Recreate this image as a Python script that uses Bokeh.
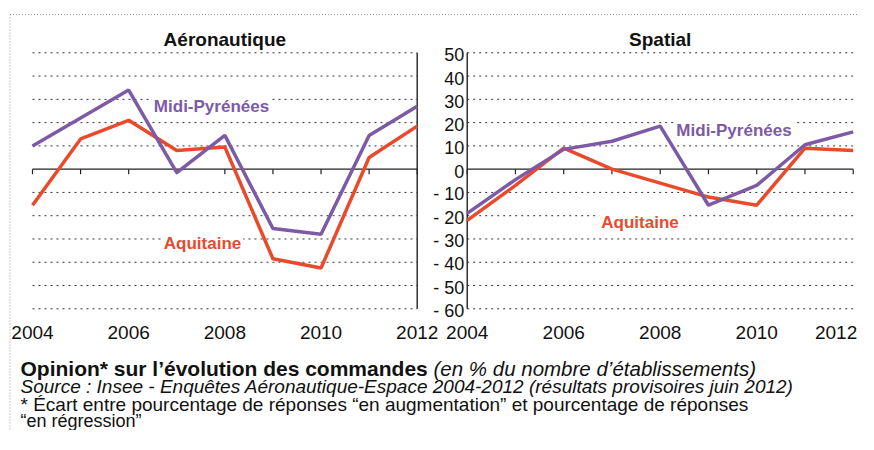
from bokeh.plotting import figure
from bokeh.models import Range1d, Label
from bokeh.core.properties import value
from bokeh.embed import file_html
from bokeh.resources import INLINE

# ---------------- data ----------------
years = [2004, 2005, 2006, 2007, 2008, 2009, 2010, 2011, 2012]
aero_midi = [10, 22, 34, -1.5, 14.5, -25.5, -28, 14.5, 27]
aero_aqui = [-15.5, 13, 21, 8, 9.5, -38.5, -42.5, 5, 18.5]
spat_midi = [-19, -4.5, 8.5, 12, 18.5, -15.5, -7, 10.5, 16]
spat_aqui = [-22, -7, 9, 0, -6, -12, -15.5, 9, 8]
year_ticks = [2004, 2006, 2008, 2010, 2012]
y_ticks = [50, 40, 30, 20, 10, 0, -10, -20, -30, -40, -50, -60]
y_tick_labels = ["50", "40", "30", "20", "10", "0", "- 10", "- 20", "- 30", "- 40", "- 50", "- 60"]
panel_titles = ["Aéronautique", "Spatial"]
series_names = ["Midi-Pyrénées", "Aquitaine"]
caption_bold = "Opinion* sur l’évolution des commandes"
caption_ital = "(en % du nombre d’établissements)"
source_text = "Source : Insee - Enquêtes Aéronautique-Espace 2004-2012 (résultats provisoires juin 2012)"
note1 = "* Écart entre pourcentage de réponses “en augmentation” et pourcentage de réponses"
note2 = "“en régression”"

# ---------------- layout (picture pixels) ----------------
W, H = 858, 430
FONT = "Liberation Sans"
PURPLE = "#7D5AA5"
RED = "#EA4A2C"
TXT = "#111111"

# y mapping: 50 -> 52.3 px, -60 -> 308.3 px
ppu = (308.3 - 52.3) / 110.0
y_top = 50 + 52.3 / ppu
y_bot = -60 - (H - 308.3) / ppu
# left panel x: 2004 -> 32, 2012 -> 416.7
ppl = (416.7 - 32.0) / 8
xl0 = 2004 - 32.0 / ppl
xl1 = 2012 + (W - 416.7) / ppl
# right panel x: 2004 -> 466.7, 2012 -> 852.7
ppr = (852.7 - 466.7) / 8
xr0 = 2004 - 466.7 / ppr
xr1 = 2012 + (W - 852.7) / ppr


def px_y(py):
    return 50 + (52.3 - py) / ppu


def px_xl(px):
    return 2004 + (px - 32.0) / ppl


def px_xr(px):
    return 2004 + (px - 466.7) / ppr


p = figure(width=W, height=H, output_backend="svg", toolbar_location=None,
           x_range=Range1d(xl0, xl1), y_range=Range1d(y_bot, y_top),
           min_border=0, outline_line_color=None,
           x_axis_location=None, y_axis_location=None)
p.extra_x_ranges = {"r": Range1d(xr0, xr1)}
p.xgrid.visible = False
p.ygrid.visible = False
p.background_fill_color = "white"
p.border_fill_color = "white"

# outer dotted border (top and left)
p.segment(x0=[px_xl(9.5)], x1=[xl1], y0=[px_y(14)], y1=[px_y(14)],
          line_color="#9a9a9a", line_dash="1 2", line_width=1)
p.segment(x0=[px_xl(9.5)], x1=[px_xl(9.5)], y0=[px_y(14)], y1=[y_bot],
          line_color="#9a9a9a", line_dash="1 2", line_width=1)

grid_vals = [v for v in y_ticks if v != 0]
for rng in ("default", "r"):
    # dotted grid lines
    p.segment(x0=[years[0]] * len(grid_vals), x1=[years[-1]] * len(grid_vals),
              y0=grid_vals, y1=grid_vals, line_color="#333333", line_width=1,
              line_dash="2 4", x_range_name=rng)
    # zero line and ticks
    p.segment(x0=[years[0]], x1=[years[-1]], y0=[0], y1=[0], line_color="#222222",
              line_width=1.4, x_range_name=rng)
    p.segment(x0=years, x1=years, y0=[0] * len(years), y1=[-5 / ppu] * len(years),
              line_color="#222222", line_width=1.2, x_range_name=rng)

# vertical axis lines
p.segment(x0=[years[-1]], x1=[years[-1]], y0=[y_ticks[-1]], y1=[y_ticks[0]],
          line_color="#222222", line_width=1.4)
p.segment(x0=[years[0]], x1=[years[0]], y0=[y_ticks[-1]], y1=[y_ticks[0]],
          line_color="#222222", line_width=1.4, x_range_name="r")

# series
p.line(years, aero_aqui, line_color=RED, line_width=3.5)
p.line(years, aero_midi, line_color=PURPLE, line_width=3.5)
p.line(years, spat_aqui, line_color=RED, line_width=3.5, x_range_name="r")
p.line(years, spat_midi, line_color=PURPLE, line_width=3.5, x_range_name="r")

# y tick labels (shared, between panels)
p.text(x=[years[0]] * len(y_ticks), y=y_ticks, text=y_tick_labels, x_range_name="r",
       x_offset=-3, y_offset=2, text_align="right", text_baseline="middle",
       text_font=value(FONT), text_font_size="18px", text_color=TXT)

# year labels
p.text(x=year_ticks, y=[y_ticks[-1]] * len(year_ticks),
       text=[str(v) for v in year_ticks],
       y_offset=23.5, text_align="center", text_baseline="middle",
       text_font=value(FONT), text_font_size="19px", text_color=TXT)
p.text(x=year_ticks[:-1], y=[y_ticks[-1]] * (len(year_ticks) - 1),
       text=[str(v) for v in year_ticks[:-1]], x_range_name="r",
       y_offset=23.5, text_align="center", text_baseline="middle",
       text_font=value(FONT), text_font_size="19px", text_color=TXT)
# last label of the right panel kept inside the picture
p.text(x=year_ticks[-1:], y=[y_ticks[-1]], text=[str(year_ticks[-1])], x_range_name="r",
       x_offset=4, y_offset=23.5, text_align="right", text_baseline="middle",
       text_font=value(FONT), text_font_size="19px", text_color=TXT)

# panel titles
for rng, t in zip(("default", "r"), panel_titles):
    p.text(x=[2008], y=[y_ticks[0]], text=[t], x_range_name=rng, y_offset=-13,
           text_align="center", text_baseline="alphabetic",
           text_font=value(FONT), text_font_style="bold", text_font_size="19px",
           text_color=TXT)

# series labels (white box hides the dotted grid line behind them)
lab_specs = [
    ("default", px_xl(211), px_y(106), series_names[0], PURPLE),
    ("default", px_xl(202), px_y(243), series_names[1], RED),
    ("r", px_xr(733.5), px_y(130), series_names[0], PURPLE),
    ("r", px_xr(639.5), px_y(222), series_names[1], RED),
]
for rng, x, y, t, c in lab_specs:
    kw = {} if rng == "default" else {"x_range_name": rng}
    p.add_layout(Label(x=x, y=y, text=t, text_align="center", text_baseline="alphabetic",
                       text_font=FONT, text_font_style="bold", text_font_size="17px",
                       text_color=c, background_fill_color="white", padding=2, **kw))

# caption
cap = [
    (20, 368, caption_bold, "bold", "21px"),
    (433, 368, caption_ital, "italic", "20.5px"),
    (20, 386, source_text, "italic", "19px"),
    (20, 404, note1, "normal", "19px"),
    (20, 420, note2, "normal", "18px"),
]
for x, y, t, st, fs in cap:
    p.add_layout(Label(x=px_xl(x), y=px_y(y), text=t, text_align="left",
                       text_baseline="alphabetic", text_font=FONT,
                       text_font_style=st, text_font_size=fs, text_color=TXT))

open("out.html", "w").write(file_html(p, INLINE))
